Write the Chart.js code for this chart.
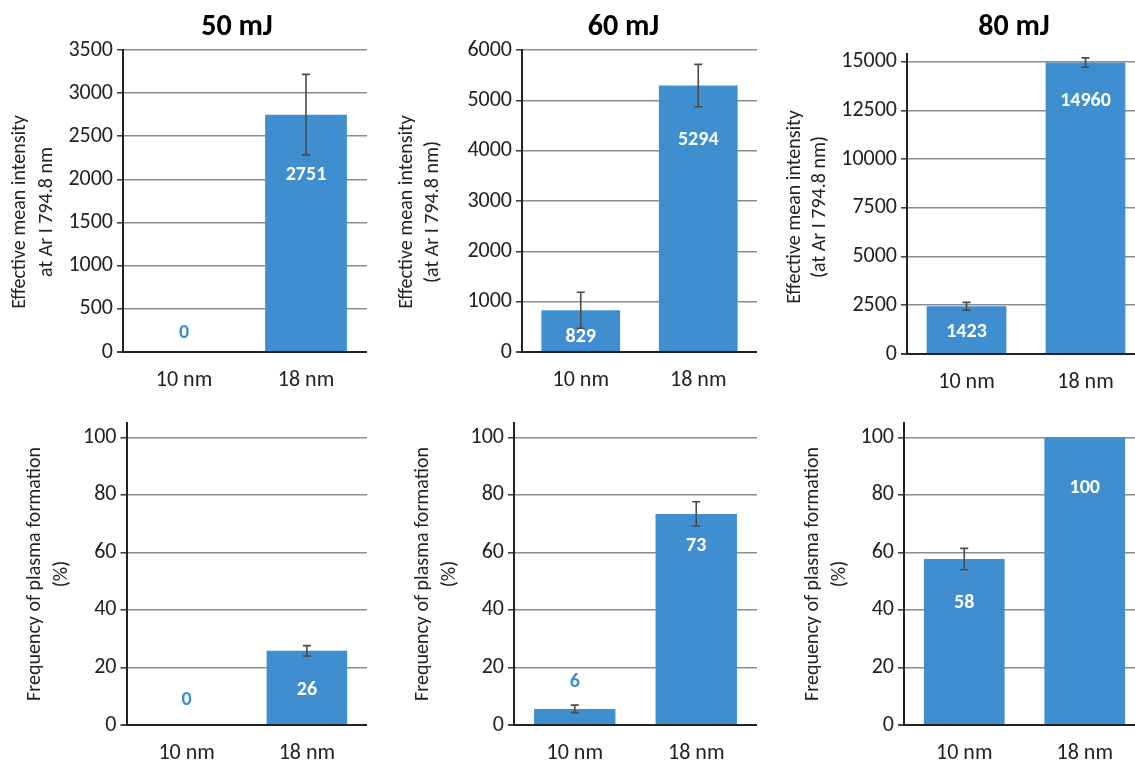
<!DOCTYPE html>
<html>
<head>
<meta charset="utf-8">
<script src="https://cdn.jsdelivr.net/npm/chart.js@4.4.1/dist/chart.umd.min.js"></script>
<style>
    html, body { margin: 0; padding: 0; background: #fff; overflow: hidden; width: 1135px; height: 761px; }
    .panel { position: absolute; }
</style>
</head>
<body>
<script>
// --- data ---
const categories = ['10 nm', '18 nm'];
const energies = ['50 mJ', '60 mJ', '80 mJ'];

const intensityValues = [[0, 2751], [829, 5294], [2450, 14960]];
const intensityErrors = [[0, 466], [358, 420], [200, 240]];
const intensityLabels = [['0', '2751'], ['829', '5294'], ['1423', '14960']];
const intensityMax = [3500, 6000, 15400];
const intensityStep = [500, 1000, 2500];
const intensityTitles = [
    ['Effective mean intensity', 'at Ar I 794.8 nm'],
    ['Effective mean intensity', '(at Ar I 794.8 nm)'],
    ['Effective mean intensity', '(at Ar I 794.8 nm)']
];

const frequencyValues = [[0, 25.8], [5.6, 73.4], [57.7, 100]];
const frequencyErrors = [[0, 1.8], [1.3, 4.2], [3.7, 0]];
const frequencyLabels = [['0', '26'], ['6', '73'], ['58', '100']];
const frequencyMax = 105;
const frequencyStep = 20;
const frequencyTitle = ['Frequency of plasma formation', '(%)'];

// --- layout / style ---
const FONT = 'Carlito, Lato, sans-serif';
const BAR_BLUE = '#3f8fd0';
const AXIS = '#222222';
const GRID = '#8c8c8c';

// label offset from bar top in px: positive = inside (white), negative = above (blue)
const labelOffsets = [[-19, 60], [27, 54], [26, 38], [-25, 39], [-27, 32], [44, 51]];

// titleDx: shift of the panel title from the plot centre; yTitleX: x of each y-title line in the canvas
const layouts = [
    { left: 0,   top: 0,   width: 367, height: 395, yAxisW: 123,   chartTop: 50, xAxisH: 43, titleDx: -8,   yTitleX: [20, 47], yTitleY: 212 },
    { left: 380, top: 0,   width: 377, height: 395, yAxisW: 142,   chartTop: 50, xAxisH: 43, titleDx: -16,  yTitleX: [27, 53], yTitleY: 212 },
    { left: 760, top: 0,   width: 385, height: 395, yAxisW: 147,   chartTop: 54, xAxisH: 41, titleDx: -12,  yTitleX: [35, 60], yTitleY: 207 },
    { left: 0,   top: 395, width: 367, height: 366, yAxisW: 126.5, chartTop: 28, xAxisH: 36, titleDx: 0,    yTitleX: [35, 62], yTitleY: 179 },
    { left: 380, top: 395, width: 377, height: 366, yAxisW: 134,   chartTop: 28, xAxisH: 36, titleDx: 0,    yTitleX: [43, 70], yTitleY: 179 },
    { left: 760, top: 395, width: 385, height: 366, yAxisW: 144,   chartTop: 28, xAxisH: 36, titleDx: 0,    yTitleX: [53, 80], yTitleY: 179 }
];

const errorBars = {
    id: 'errorBars',
    afterDatasetsDraw(chart, args, opts) {
        const ctx = chart.ctx;
        const yScale = chart.scales.y;
        const meta = chart.getDatasetMeta(0);
        const values = chart.data.datasets[0].data;
        ctx.save();
        ctx.strokeStyle = '#4a4a4a';
        ctx.lineWidth = 1.6;
        meta.data.forEach((bar, i) => {
            const err = opts.errors[i];
            if (!err) return;
            const top = yScale.getPixelForValue(values[i] + err);
            const bottom = yScale.getPixelForValue(values[i] - err);
            ctx.beginPath();
            ctx.moveTo(bar.x, top);
            ctx.lineTo(bar.x, bottom);
            ctx.moveTo(bar.x - 4, top);
            ctx.lineTo(bar.x + 4, top);
            ctx.moveTo(bar.x - 4, bottom);
            ctx.lineTo(bar.x + 4, bottom);
            ctx.stroke();
        });
        ctx.restore();
    }
};

const barLabels = {
    id: 'barLabels',
    afterDraw(chart, args, opts) {
        const ctx = chart.ctx;
        const meta = chart.getDatasetMeta(0);
        ctx.save();
        ctx.font = 'bold 20px ' + FONT;
        ctx.textAlign = 'center';
        ctx.textBaseline = 'middle';
        meta.data.forEach((bar, i) => {
            const off = opts.offsets[i];
            ctx.fillStyle = off > 0 ? '#ffffff' : BAR_BLUE;
            ctx.fillText(opts.labels[i], bar.x, bar.y + off);
        });
        ctx.restore();
    }
};

// panel title and two-line rotated y title
const panelText = {
    id: 'panelText',
    afterDraw(chart, args, opts) {
        const ctx = chart.ctx;
        const area = chart.chartArea;
        ctx.save();
        ctx.textAlign = 'center';
        ctx.textBaseline = 'middle';
        if (opts.title) {
            ctx.fillStyle = '#000';
            ctx.font = 'bold 30px ' + FONT;
            ctx.fillText(opts.title, (area.left + area.right) / 2 + opts.titleDx, 27);
        }
        ctx.fillStyle = '#222';
        ctx.font = '20px ' + FONT;
        opts.yTitle.forEach((line, k) => {
            ctx.save();
            ctx.translate(opts.yTitleX[k], opts.yTitleY);
            ctx.rotate(-Math.PI / 2);
            ctx.fillText(line, 0, 0);
            ctx.restore();
        });
        ctx.restore();
    }
};

function makePanel(index, values, errors, labels, max, step, yTitle, title) {
    const lay = layouts[index];
    const div = document.createElement('div');
    div.className = 'panel';
    div.style.left = lay.left + 'px';
    div.style.top = lay.top + 'px';
    div.style.width = lay.width + 'px';
    div.style.height = lay.height + 'px';
    const canvas = document.createElement('canvas');
    div.appendChild(canvas);
    document.body.appendChild(div);

    new Chart(canvas.getContext('2d'), {
        type: 'bar',
        data: {
            labels: categories,
            datasets: [{
                data: values,
                backgroundColor: BAR_BLUE,
                borderWidth: 0,
                barPercentage: 0.67,
                categoryPercentage: 1
            }]
        },
        plugins: [errorBars, barLabels, panelText],
        options: {
            responsive: true,
            maintainAspectRatio: false,
            animation: false,
            layout: {
                padding: { top: lay.chartTop, right: 0, bottom: 0, left: 0 }
            },
            plugins: {
                legend: { display: false },
                tooltip: { enabled: false },
                errorBars: { errors: errors },
                barLabels: { labels: labels, offsets: labelOffsets[index] },
                panelText: { title: title, titleDx: lay.titleDx, yTitle: yTitle, yTitleX: lay.yTitleX, yTitleY: lay.yTitleY }
            },
            scales: {
                x: {
                    grid: { display: false, drawTicks: false },
                    border: { color: AXIS, width: 2 },
                    ticks: { color: '#222', font: { family: FONT, size: 22 }, padding: 15 },
                    afterFit(scale) { scale.height = lay.xAxisH; }
                },
                y: {
                    min: 0,
                    max: max,
                    ticks: {
                        color: '#222',
                        font: { family: FONT, size: 22 },
                        padding: 4,
                        callback: v => String(v)
                    },
                    afterBuildTicks(scale) {
                        const ticks = [];
                        for (let v = 0; v <= max; v += step) ticks.push({ value: v });
                        scale.ticks = ticks;
                    },
                    grid: {
                        color: c => (c.tick && c.tick.value === 0 ? AXIS : GRID),
                        lineWidth: c => (c.tick && c.tick.value === 0 ? 2 : 1.6),
                        tickLength: 6,
                        tickColor: '#444'
                    },
                    border: { color: AXIS, width: 2 },
                    afterFit(scale) { scale.width = lay.yAxisW; }
                }
            }
        }
    });
}

for (let i = 0; i < 3; i++) {
    makePanel(i, intensityValues[i], intensityErrors[i], intensityLabels[i],
        intensityMax[i], intensityStep[i], intensityTitles[i], energies[i]);
}
for (let i = 0; i < 3; i++) {
    makePanel(i + 3, frequencyValues[i], frequencyErrors[i], frequencyLabels[i],
        frequencyMax, frequencyStep, frequencyTitle, null);
}
</script>
</body>
</html>
